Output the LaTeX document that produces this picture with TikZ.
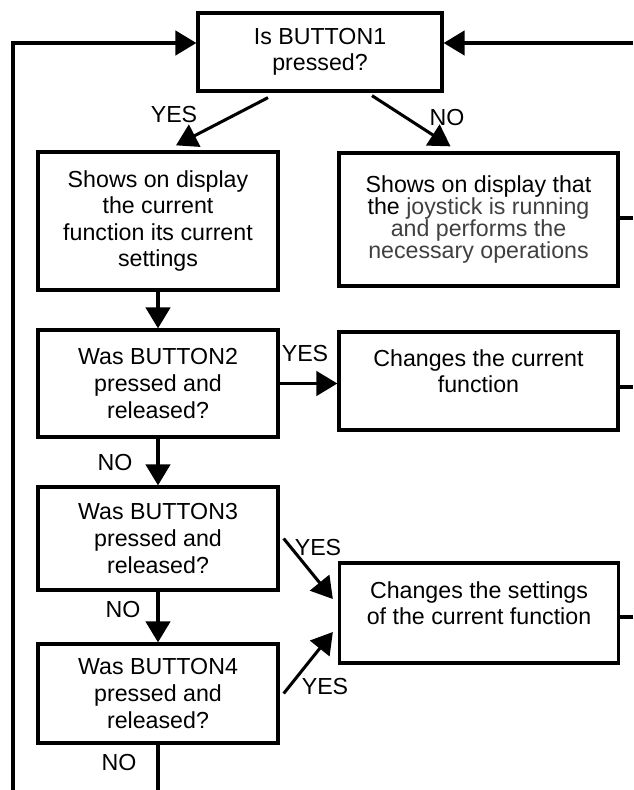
\documentclass[tikz,border=0pt]{standalone}
\usepackage{fontspec}
\setmainfont{Liberation Sans}
\usepackage{tikz}
\usetikzlibrary{arrows.meta, calc, positioning}

\begin{document}
\begin{tikzpicture}[
		x=0.03cm, y=-0.03cm,
		box/.style={
				draw,
				line width=2.8pt,
				align=center,
				inner sep=0pt,
				font=\fontsize{19.8}{22.7}\selectfont
			},
		leftbox/.style={box, minimum width=7.2cm},
		rightbox/.style={box, minimum width=8.37cm},
		flow/.style={-{Triangle[length=18pt, width=21pt]}, line width=2.6pt},
		answer/.style={inner sep=0pt, font=\fontsize{19.8}{22.7}\selectfont}
	]
	\useasboundingbox (0,0) rectangle (633,790);

	% decision boxes on the left
	\node[box, minimum width=7.32cm, minimum height=2.34cm] (q1) at (320, 52) {Is BUTTON1\\pressed?};
	\node[leftbox, minimum height=4.14cm] (disp) at (158, 221) {Shows on display\\the current\\function its current\\settings};
	\node[leftbox, minimum height=3.21cm] (q2) at (158, 383.5) {Was BUTTON2\\pressed and\\released?};
	\node[leftbox, minimum height=3.09cm] (q3) at (158, 538.5) {Was BUTTON3\\pressed and\\released?};
	\node[leftbox, minimum height=2.97cm] (q4) at (158, 693.5) {Was BUTTON4\\pressed and\\released?};

	% action boxes on the right
	\node[rightbox, minimum height=3.99cm, font=\fontsize{19.8}{18.8}\selectfont] (run) at (478.5, 219.5)
	{Shows on display that\\the \textcolor{black!75}{joystick is running}\\\textcolor{black!75}{and performs the}\\\textcolor{black!75}{necessary operations}};
	\node[rightbox, minimum height=2.94cm] (func) at (478.5, 381) {Changes the current\\function\\[-5.5pt]\mbox{}};
	\node[rightbox, minimum height=3.0cm] (sett) at (479, 613) {Changes the settings\\of the current function\\[-5.5pt]\mbox{}};

	% loose ends
	\coordinate (loopB) at (13, 790);
	\coordinate (loopL) at (13, 43);
	\coordinate (loopR) at (633, 43);
	\coordinate (outA) at (633, 218);
	\coordinate (outB) at (633, 387);
	\coordinate (outC) at (633, 617);
	\coordinate (endB) at (158, 790);

	\draw[flow] (loopB) -- (loopL) -- (loopL -| q1.west);
	\draw[flow] (loopR) -- (loopR -| q1.east);

	\draw[flow] ($(q1.south)+(-52,5)$) -- ($(disp.north)+(18,-5)$);
	\draw[flow] ($(q1.south)+(52,3)$) -- ($(run.north)+(-28,-5)$);
	\draw[flow] (disp.south) -- (disp.south |- q2.north);
	\draw[flow] (q2.east) -- (q2.east -| func.west);
	\draw[flow] (q2.south) -- (q2.south |- q3.north);
	\draw[flow] ($(q3.east)+(4,0)$) -- ($(sett.west)+(-5,-14)$);
	\draw[flow] (q3.south) -- (q3.south |- q4.north);
	\draw[flow] ($(q4.east)+(4,0)$) -- ($(sett.west)+(-5,19)$);

	\draw[line width=2.6pt] (q4.south) -- (endB);
	\draw[line width=2.6pt] (run.east |- outA) -- (outA);
	\draw[line width=2.6pt] (func.east |- outB) -- (outB);
	\draw[line width=2.6pt] (sett.east |- outC) -- (outC);

	% branch labels
	\node[answer] (y1) at (174, 115) {YES};
	\node[answer] (n1) at (447, 118) {NO};
	\node[answer] (y2) at (305, 354) {YES};
	\node[answer] (n2) at (115, 463) {NO};
	\node[answer] (y3) at (318, 548) {YES};
	\node[answer] (n3) at (123, 610) {NO};
	\node[answer] (y4) at (325, 687) {YES};
	\node[answer] (n4) at (119, 763) {NO};
\end{tikzpicture}
\end{document}
